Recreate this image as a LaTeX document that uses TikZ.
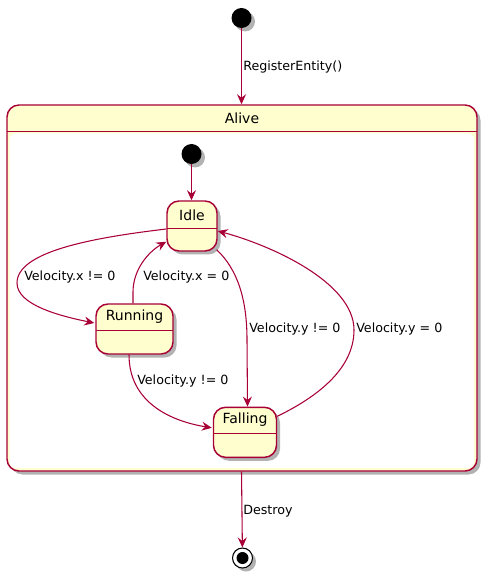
\documentclass[tikz,border=0pt]{standalone}
\usepackage{fontspec}
\setmainfont{DejaVu Sans}
\usetikzlibrary{arrows.meta,shadows,calc}
\newdimen\upx \upx=0.75pt
\definecolor{umlred}{HTML}{A80036}
\definecolor{umlfill}{HTML}{FEFECE}
\tikzset{
  shade3/.style={drop shadow={shadow xshift=3.5\upx, shadow yshift=-3.5\upx, fill=black, opacity=0.3}},
  statebox/.style={draw=umlred, fill=umlfill, line width=1.1pt, rounded corners=12\upx, shade3, inner sep=0pt},
  sname/.style={font=\fontsize{10.5pt}{12pt}\selectfont, inner sep=0pt, text=black},
  elabel/.style={font=\fontsize{9.5pt}{11pt}\selectfont, inner sep=0pt, anchor=west, text=black},
  conn/.style={draw=umlred, line width=0.8pt, -{Stealth[length=7.5pt, width=6.75pt, inset=2.6pt]}},
  sepline/.style={draw=umlred, line width=1.1pt},
}
\begin{document}
\begin{tikzpicture}[x=0.75pt, y=-0.75pt]
\useasboundingbox (0,0) rectangle (489,580);
% outer start
\node (start) [circle, fill=black, minimum size=20\upx, inner sep=0pt, shade3] at (241.5,18) {};
% Alive composite
\node (alive) [statebox, minimum width=470\upx, minimum height=366\upx] at (242,288) {};
\fill[white, rounded corners=6\upx] (9.5,133.5) rectangle (474,468);
\draw[sepline] (7,131.5) -- (477,131.5);
\node (alivename) [sname] at (242,118) {Alive};
% inner start
\node (istart) [circle, fill=black, minimum size=20\upx, inner sep=0pt, shade3] at (191.5,154) {};
% states
\node (idle) [statebox, minimum width=50\upx, minimum height=50\upx] at (192,226) {};
\draw[sepline] (167,228.5) -- (217,228.5);
\node (idlename) [sname] at (192,215) {Idle};
\node (running) [statebox, minimum width=77\upx, minimum height=50\upx] at (134.5,329) {};
\draw[sepline] (96,330.5) -- (173,330.5);
\node (runningname) [sname] at (134.5,317) {Running};
\node (falling) [statebox, minimum width=63\upx, minimum height=50\upx] at (245,432.3) {};
\draw[sepline] (213.5,433.5) -- (276.5,433.5);
\node (fallingname) [sname] at (245,420) {Falling};
% final
\node (final) [circle, draw=black, fill=white, line width=0.8pt, minimum size=20\upx, inner sep=0pt, shade3] at (242.5,558) {};
\node (finaldot) [circle, fill=black, minimum size=12\upx, inner sep=0pt] at (final.center) {};
% connectors
\draw[conn] (start) -- (alive.north -| start);
\node (l1) [elabel] at (243,67) {RegisterEntity()};
\draw[conn] (istart) -- (idle.north -| istart);
\draw[conn] ($(idle.west)+(0,3)$) .. controls (90,238) and (17,252) .. (17,283)
   .. controls (17,305) and (60,316) .. ($(running.west)+(-1,-6)$);
\node (l2) [elabel] at (24,277) {Velocity.x != 0};
\draw[conn] ($(running.north)+(-1.5,0)$) -- (133,292) .. controls (133,270) and (148,252) .. ($(idle.south west)+(0,-10)$);
\node (l3) [elabel] at (143,277) {Velocity.x = 0};
\draw[conn] ($(idle.south east)+(-1,-2)$) .. controls (238,270) and (247,300) .. (247,340) -- ($(falling.north)+(2.5,0)$);
\node (l4) [elabel] at (249,329) {Velocity.y != 0};
\draw[conn] ($(falling.east)+(0,-16)$) .. controls (315,398) and (354,370) .. (354,330)
   .. controls (354,282) and (270,245) .. ($(idle.east)+(0,5)$);
\node (l5) [elabel] at (356,329) {Velocity.y = 0};
\draw[conn] ($(running.south)+(-5.5,0)$) .. controls (129,402) and (170,421) .. ($(falling.west)+(-1,-4.5)$);
\node (l6) [elabel] at (137,381) {Velocity.y != 0};
\draw[conn] (alive.south -| start) -- (final);
\node (l7) [elabel] at (243,511) {Destroy};
\end{tikzpicture}
\end{document}
